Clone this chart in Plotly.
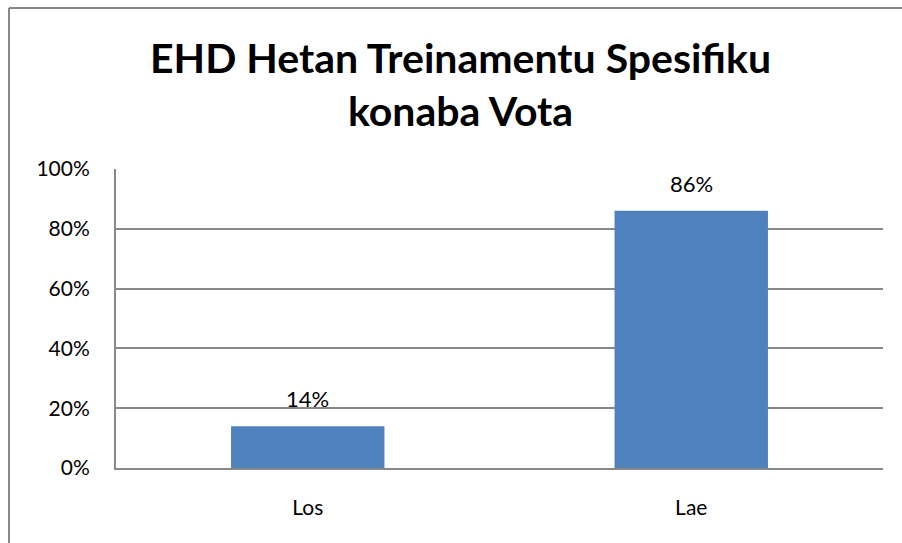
import plotly.graph_objects as go

categories = ["Los", "Lae"]
values = [0.14, 0.86]
value_labels = ["14%", "86%"]
tick_vals = [0, 0.2, 0.4, 0.6, 0.8, 1.0]
tick_text = ["0%", "20%", "40%", "60%", "80%", "100%"]
title_text = "EHD Hetan Treinamentu Spesifiku<br>konaba Vota"

W, H = 902, 543
L, R, T, B = 116, 883, 169, 468
pw, ph = R - L, B - T

def px(x):
    return (x - L) / pw

def py(y):
    return (B - y) / ph

FONT = "Lato"
GRID = "#888888"

fig = go.Figure()
fig.add_trace(go.Bar(
    x=categories, y=values,
    marker=dict(color="#4F81BD", line=dict(width=0)),
    hoverinfo="skip",
))
for c, v, t in zip(categories, values, value_labels):
    fig.add_annotation(x=c, y=v, text=t, showarrow=False, yanchor="bottom",
                       yshift=12, font=dict(family=FONT, size=22, color="#000000"))

fig.add_annotation(xref="paper", yref="paper", x=px(460), y=py(84), text="<b>" + title_text + "</b>",
                   showarrow=False, xanchor="center", yanchor="middle",
                   font=dict(family=FONT, size=41, color="#000000"))

# outer chart border (left and top edges visible in the picture)
fig.add_shape(type="line", xref="paper", yref="paper",
              x0=px(9), x1=px(9), y0=py(543), y1=py(8),
              line=dict(color="#878787", width=2), layer="below")
fig.add_shape(type="line", xref="paper", yref="paper",
              x0=px(9), x1=px(902), y0=py(8), y1=py(8),
              line=dict(color="#878787", width=2), layer="below")

fig.update_layout(
    width=W, height=H,
    margin=dict(l=L, r=W - R, t=T, b=H - B, pad=0),
    paper_bgcolor="white", plot_bgcolor="white",
    showlegend=False, bargap=0.6,
    font=dict(family=FONT, size=21, color="#000000"),
)
fig.update_xaxes(showgrid=False, showline=True, linecolor=GRID, linewidth=2,
                 ticks="outside", ticklen=20, tickcolor="rgba(0,0,0,0)",
                 tickfont=dict(family=FONT, size=21, color="#000000"), fixedrange=True)
fig.update_yaxes(range=[0, 1], tickvals=tick_vals, ticktext=tick_text,
                 showgrid=True, gridcolor=GRID, gridwidth=2,
                 showline=True, linecolor=GRID, linewidth=2, zeroline=False,
                 ticks="outside", ticklen=20, tickcolor="rgba(0,0,0,0)",
                 tickfont=dict(family=FONT, size=21, color="#000000"), fixedrange=True)

fig.write_html("out.html", config={"displayModeBar": False},
               post_script=("document.body.style.margin='0';"
                            "document.body.style.overflow='hidden';"
                            "document.documentElement.style.overflow='hidden';"))
